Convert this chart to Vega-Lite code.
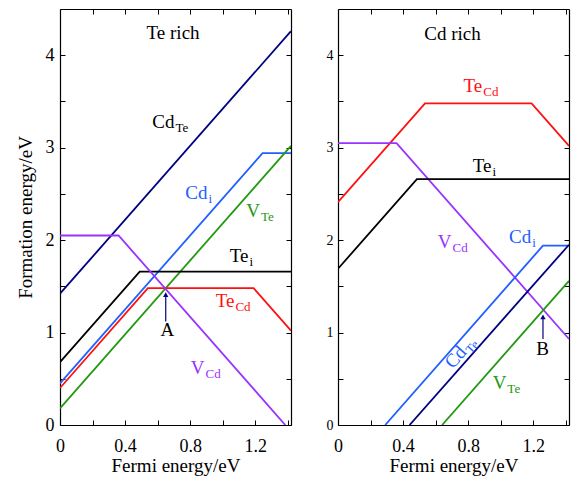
{
  "$schema": "https://vega.github.io/schema/vega-lite/v6.json",
  "padding": {"left": 16, "top": 8, "right": 5, "bottom": 3},
  "spacing": 32,
  "config": {
    "view": {"stroke": null},
    "axis": {"labelFont": "Liberation Serif", "titleFont": "Liberation Serif", "labelFontSize": 18, "titleFontSize": 19, "titleFontWeight": "normal", "labelColor": "black", "titleColor": "black", "domainColor": "black", "tickColor": "black", "grid": false, "tickSize": -5, "domainWidth": 1.2, "tickWidth": 1},
    "text": {"font": "Liberation Serif"}
  },
  "datasets": {
    "left_lines": [
      {"series": "CdTe", "x": 0, "y": 1.42}, {"series": "CdTe", "x": 1.42, "y": 4.26},
      {"series": "Cdi", "x": 0, "y": 0.45}, {"series": "Cdi", "x": 1.245, "y": 2.94}, {"series": "Cdi", "x": 1.42, "y": 2.94},
      {"series": "VTe", "x": 0, "y": 0.18}, {"series": "VTe", "x": 1.42, "y": 3.02},
      {"series": "Tei", "x": 0, "y": 0.68}, {"series": "Tei", "x": 0.49, "y": 1.66}, {"series": "Tei", "x": 1.42, "y": 1.66},
      {"series": "TeCd", "x": 0, "y": 0.4}, {"series": "TeCd", "x": 0.54, "y": 1.48}, {"series": "TeCd", "x": 1.19, "y": 1.48}, {"series": "TeCd", "x": 1.42, "y": 1.02},
      {"series": "VCd", "x": 0, "y": 2.05}, {"series": "VCd", "x": 0.36, "y": 2.05}, {"series": "VCd", "x": 1.385, "y": 0}
    ],
    "right_lines": [
      {"series": "TeCd", "x": 0, "y": 2.41}, {"series": "TeCd", "x": 0.535, "y": 3.48}, {"series": "TeCd", "x": 1.19, "y": 3.48}, {"series": "TeCd", "x": 1.42, "y": 3.02},
      {"series": "VCd", "x": 0, "y": 3.05}, {"series": "VCd", "x": 0.36, "y": 3.05}, {"series": "VCd", "x": 1.42, "y": 0.93},
      {"series": "Tei", "x": 0, "y": 1.69}, {"series": "Tei", "x": 0.485, "y": 2.66}, {"series": "Tei", "x": 1.42, "y": 2.66},
      {"series": "Cdi", "x": 0.29, "y": 0}, {"series": "Cdi", "x": 1.26, "y": 1.94}, {"series": "Cdi", "x": 1.42, "y": 1.94},
      {"series": "CdTe", "x": 0.44, "y": 0}, {"series": "CdTe", "x": 1.42, "y": 1.95},
      {"series": "VTe", "x": 0.64, "y": 0}, {"series": "VTe", "x": 1.42, "y": 1.56}
    ],
    "left_labels": [
      {"series": "CdTe", "x": 0.704, "y": 3.21, "main": "Cd", "sub": "Te"},
      {"series": "Cdi", "x": 0.907, "y": 2.44, "main": "Cd", "sub": "i"},
      {"series": "VTe", "x": 1.229, "y": 2.25, "main": "V", "sub": "Te"},
      {"series": "Tei", "x": 1.158, "y": 1.76, "main": "Te", "sub": "i"},
      {"series": "TeCd", "x": 1.072, "y": 1.28, "main": "Te", "sub": "Cd"},
      {"series": "VCd", "x": 0.888, "y": 0.556, "main": "V", "sub": "Cd"}
    ],
    "right_labels": [
      {"series": "TeCd", "x": 0.887, "y": 3.6, "main": "Te", "sub": "Cd"},
      {"series": "Tei", "x": 0.943, "y": 2.735, "main": "Te", "sub": "i"},
      {"series": "VCd", "x": 0.698, "y": 1.92, "main": "V", "sub": "Cd"},
      {"series": "Cdi", "x": 1.188, "y": 1.965, "main": "Cd", "sub": "i"},
      {"series": "VTe", "x": 1.035, "y": 0.39, "main": "V", "sub": "Te"}
    ],
    "right_rot": [
      {"series": "CdTe", "x": 0.796, "y": 0.78, "main": "Cd", "sub": "Te"}
    ],
    "left_notes": [
      {"x": 0.695, "y": 4.18, "text": "Te rich"},
      {"x": 0.66, "y": 0.965, "text": "A"}
    ],
    "right_notes": [
      {"x": 0.704, "y": 4.17, "text": "Cd rich"},
      {"x": 1.258, "y": 0.76, "text": "B"}
    ],
    "left_arrows": [{"x": 0.65, "y": 1.12, "y2": 1.41}],
    "right_arrows": [{"x": 1.26, "y": 0.93, "y2": 1.17}]
  },
  "hconcat": [
    {
      "width": 231, "height": 416,
      "resolve": {"axis": {"x": "independent", "y": "independent"}},
      "layer": [
        {
          "data": {"name": "left_lines"},
          "mark": {"type": "line", "strokeWidth": 1.8, "clip": true},
          "encoding": {
            "x": {"field": "x", "type": "quantitative", "scale": {"domain": [0, 1.42], "nice": false, "zero": false},
                  "axis": {"values": [0, 0.2, 0.4, 0.6, 0.8, 1, 1.2, 1.4], "labelExpr": "round(datum.value*10)%4==0 ? (datum.value==0 ? '0' : format(datum.value,'.1f')) : ''", "title": "Fermi energy/eV", "labelPadding": 17, "titlePadding": 1, "labelFlush": false, "labelOverlap": false}},
            "y": {"field": "y", "type": "quantitative", "scale": {"domain": [0, 4.5], "nice": false},
                  "axis": {"values": [0, 0.5, 1, 1.5, 2, 2.5, 3, 3.5, 4], "labelExpr": "datum.value%1==0 ? format(datum.value,'d') : ''", "title": "Formation energy/eV", "labelPadding": 11, "titlePadding": 10, "labelFlush": false, "labelOverlap": false}},
            "color": {"field": "series", "type": "nominal", "legend": null,
                      "scale": {"domain": ["CdTe", "Cdi", "VTe", "Tei", "TeCd", "VCd"], "range": ["#000080", "#2060ff", "#229911", "#000000", "#ff1010", "#9933ff"]}}
          }
        },
        {
          "data": {"name": "left_lines"},
          "mark": {"type": "point", "opacity": 0},
          "encoding": {
            "x": {"field": "x", "type": "quantitative", "axis": {"orient": "top", "values": [0, 0.2, 0.4, 0.6, 0.8, 1, 1.2, 1.4], "labels": false, "title": null}},
            "y": {"field": "y", "type": "quantitative", "axis": {"orient": "right", "values": [0, 0.5, 1, 1.5, 2, 2.5, 3, 3.5, 4], "labels": false, "title": null}}
          }
        },
        {
          "data": {"name": "left_arrows"},
          "mark": {"type": "rule", "color": "#000080", "strokeWidth": 1.2},
          "encoding": {
            "x": {"field": "x", "type": "quantitative", "axis": null},
            "y": {"field": "y", "type": "quantitative", "axis": null},
            "y2": {"field": "y2"}
          }
        },
        {
          "data": {"name": "left_arrows"},
          "mark": {"type": "point", "shape": "triangle-up", "filled": true, "size": 28, "color": "#000080", "opacity": 1},
          "encoding": {
            "x": {"field": "x", "type": "quantitative", "axis": null},
            "y": {"field": "y2", "type": "quantitative", "axis": null}
          }
        },
        {
          "data": {"name": "left_labels"},
          "mark": {"type": "text", "align": "right", "baseline": "alphabetic", "fontSize": 19},
          "encoding": {
            "x": {"field": "x", "type": "quantitative", "axis": null},
            "y": {"field": "y", "type": "quantitative", "axis": null},
            "text": {"field": "main"},
            "color": {"condition": {"test": "datum.series=='CdTe'", "value": "#000000"}, "field": "series", "type": "nominal", "legend": null}
          }
        },
        {
          "data": {"name": "left_labels"},
          "mark": {"type": "text", "align": "left", "baseline": "alphabetic", "fontSize": 13, "dx": 1, "dy": 4},
          "encoding": {
            "x": {"field": "x", "type": "quantitative", "axis": null},
            "y": {"field": "y", "type": "quantitative", "axis": null},
            "text": {"field": "sub"},
            "color": {"condition": {"test": "datum.series=='CdTe'", "value": "#000000"}, "field": "series", "type": "nominal", "legend": null}
          }
        },
        {
          "data": {"name": "left_notes"},
          "mark": {"type": "text", "align": "center", "baseline": "alphabetic", "fontSize": 19, "color": "black"},
          "encoding": {
            "x": {"field": "x", "type": "quantitative", "axis": null},
            "y": {"field": "y", "type": "quantitative", "axis": null},
            "text": {"field": "text"}
          }
        }
      ]
    },
    {
      "width": 231, "height": 416,
      "resolve": {"axis": {"x": "independent", "y": "independent"}},
      "layer": [
        {
          "data": {"name": "right_lines"},
          "mark": {"type": "line", "strokeWidth": 1.8, "clip": true},
          "encoding": {
            "x": {"field": "x", "type": "quantitative", "scale": {"domain": [0, 1.42], "nice": false, "zero": false},
                  "axis": {"values": [0, 0.2, 0.4, 0.6, 0.8, 1, 1.2, 1.4], "labelExpr": "round(datum.value*10)%4==0 ? (datum.value==0 ? '0' : format(datum.value,'.1f')) : ''", "title": "Fermi energy/eV", "labelPadding": 17, "titlePadding": 1, "labelFlush": false, "labelOverlap": false}},
            "y": {"field": "y", "type": "quantitative", "scale": {"domain": [0, 4.5], "nice": false},
                  "axis": {"values": [0, 0.5, 1, 1.5, 2, 2.5, 3, 3.5, 4], "labelExpr": "datum.value%1==0 ? format(datum.value,'d') : ''", "title": null, "labelFontSize": 14, "labelPadding": 10, "labelFlush": false, "labelOverlap": false}},
            "color": {"field": "series", "type": "nominal", "legend": null,
                      "scale": {"domain": ["CdTe", "Cdi", "VTe", "Tei", "TeCd", "VCd"], "range": ["#000080", "#2060ff", "#229911", "#000000", "#ff1010", "#9933ff"]}}
          }
        },
        {
          "data": {"name": "right_lines"},
          "mark": {"type": "point", "opacity": 0},
          "encoding": {
            "x": {"field": "x", "type": "quantitative", "axis": {"orient": "top", "values": [0, 0.2, 0.4, 0.6, 0.8, 1, 1.2, 1.4], "labels": false, "title": null}},
            "y": {"field": "y", "type": "quantitative", "axis": {"orient": "right", "values": [0, 0.5, 1, 1.5, 2, 2.5, 3, 3.5, 4], "labels": false, "title": null}}
          }
        },
        {
          "data": {"name": "right_arrows"},
          "mark": {"type": "rule", "color": "#000080", "strokeWidth": 1.2},
          "encoding": {
            "x": {"field": "x", "type": "quantitative", "axis": null},
            "y": {"field": "y", "type": "quantitative", "axis": null},
            "y2": {"field": "y2"}
          }
        },
        {
          "data": {"name": "right_arrows"},
          "mark": {"type": "point", "shape": "triangle-up", "filled": true, "size": 28, "color": "#000080", "opacity": 1},
          "encoding": {
            "x": {"field": "x", "type": "quantitative", "axis": null},
            "y": {"field": "y2", "type": "quantitative", "axis": null}
          }
        },
        {
          "data": {"name": "right_labels"},
          "mark": {"type": "text", "align": "right", "baseline": "alphabetic", "fontSize": 19},
          "encoding": {
            "x": {"field": "x", "type": "quantitative", "axis": null},
            "y": {"field": "y", "type": "quantitative", "axis": null},
            "text": {"field": "main"},
            "color": {"field": "series", "type": "nominal", "legend": null}
          }
        },
        {
          "data": {"name": "right_labels"},
          "mark": {"type": "text", "align": "left", "baseline": "alphabetic", "fontSize": 13, "dx": 1, "dy": 4},
          "encoding": {
            "x": {"field": "x", "type": "quantitative", "axis": null},
            "y": {"field": "y", "type": "quantitative", "axis": null},
            "text": {"field": "sub"},
            "color": {"field": "series", "type": "nominal", "legend": null}
          }
        },
        {
          "data": {"name": "right_rot"},
          "mark": {"type": "text", "align": "right", "baseline": "alphabetic", "fontSize": 19, "angle": 312, "color": "#2060ff"},
          "encoding": {
            "x": {"field": "x", "type": "quantitative", "axis": null},
            "y": {"field": "y", "type": "quantitative", "axis": null},
            "text": {"field": "main"}
          }
        },
        {
          "data": {"name": "right_rot"},
          "mark": {"type": "text", "align": "left", "baseline": "alphabetic", "fontSize": 13, "angle": 312, "dx": 1, "dy": 4, "color": "#2060ff"},
          "encoding": {
            "x": {"field": "x", "type": "quantitative", "axis": null},
            "y": {"field": "y", "type": "quantitative", "axis": null},
            "text": {"field": "sub"}
          }
        },
        {
          "data": {"name": "right_notes"},
          "mark": {"type": "text", "align": "center", "baseline": "alphabetic", "fontSize": 19, "color": "black"},
          "encoding": {
            "x": {"field": "x", "type": "quantitative", "axis": null},
            "y": {"field": "y", "type": "quantitative", "axis": null},
            "text": {"field": "text"}
          }
        }
      ]
    }
  ]
}
